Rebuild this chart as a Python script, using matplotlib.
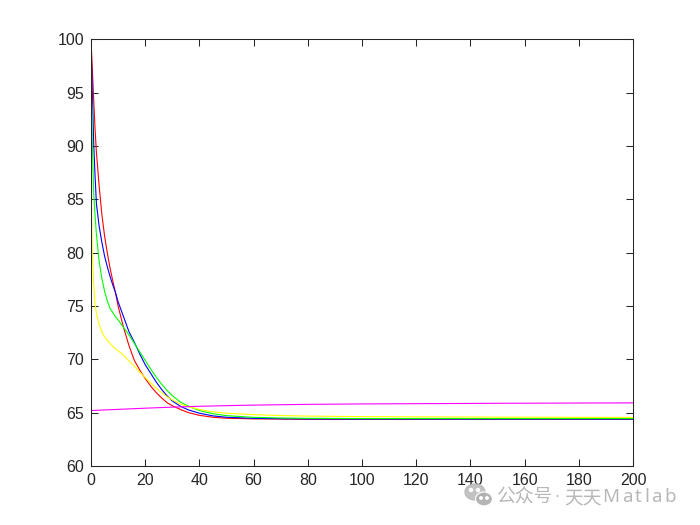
import matplotlib
matplotlib.use("Agg")
import matplotlib.pyplot as plt
from matplotlib.patches import Ellipse

# ---- data ----
red_x = [0, 0.5, 1, 1.5, 2, 3, 4, 5, 6, 7, 8, 9, 10, 12, 14, 16, 18, 20, 22, 24, 26, 28, 30, 33, 36, 40, 45, 50, 60, 70, 80, 100, 150, 200]
red_y = [100, 97.2, 94.3, 91.6, 89.4, 86.3, 83.6, 81.6, 80.0, 78.6, 77.4, 76.3, 75.0, 73.0, 71.3, 69.9, 69.0, 68.2, 67.5, 66.9, 66.4, 65.95, 65.65, 65.3, 65.0, 64.75, 64.57, 64.48, 64.42, 64.4, 64.38, 64.38, 64.38, 64.38]

blue_x = [0, 0.25, 0.5, 1, 1.5, 2, 3, 4, 5, 6, 7, 8, 9, 10, 12, 14, 16, 18, 20, 22, 24, 26, 28, 30, 33, 36, 40, 45, 50, 60, 70, 80, 100, 150, 200]
blue_y = [100, 97.3, 95, 90.3, 87.2, 84.6, 82.5, 81.0, 79.7, 78.7, 77.8, 77.0, 76.3, 75.4, 74.0, 72.6, 71.6, 70.5, 69.5, 68.7, 67.9, 67.2, 66.6, 66.1, 65.6, 65.25, 64.95, 64.7, 64.57, 64.47, 64.43, 64.41, 64.4, 64.4, 64.4]

green_x = [0, 0.25, 0.5, 1, 1.5, 2, 3, 4, 5, 6, 7, 8, 9, 10, 12, 14, 16, 18, 20, 22, 24, 26, 28, 30, 33, 36, 40, 45, 50, 60, 70, 80, 100, 150, 200]
green_y = [100, 94, 90, 85.6, 83.5, 81.7, 79.2, 77.6, 76.4, 75.5, 74.8, 74.4, 74.0, 73.7, 73.0, 72.3, 71.5, 70.7, 69.9, 69.1, 68.35, 67.7, 67.1, 66.6, 66.0, 65.6, 65.2, 64.9, 64.72, 64.56, 64.5, 64.47, 64.45, 64.45, 64.45]

yellow_x = [0, 0.1, 0.25, 0.5, 1, 1.5, 2, 3, 4, 5, 6, 7, 8, 9, 10, 12, 14, 16, 18, 20, 22, 24, 26, 28, 30, 33, 36, 40, 45, 50, 60, 70, 80, 100, 150, 200]
yellow_y = [100, 88, 83, 80, 77, 75.2, 74.3, 73.3, 72.6, 72.1, 71.8, 71.5, 71.25, 71.0, 70.8, 70.4, 69.85, 69.35, 68.8, 68.3, 67.8, 67.3, 66.9, 66.5, 66.2, 65.8, 65.55, 65.3, 65.08, 64.95, 64.82, 64.73, 64.68, 64.63, 64.58, 64.55]

magenta_x = [0, 10, 20, 30, 40, 50, 60, 80, 100, 150, 200]
magenta_y = [65.2, 65.31, 65.42, 65.52, 65.6, 65.66, 65.71, 65.78, 65.82, 65.88, 65.92]

x_ticks = [0, 20, 40, 60, 80, 100, 120, 140, 160, 180, 200]
y_ticks = [60, 65, 70, 75, 80, 85, 90, 95, 100]

watermark_parts = ["公众号", "·", "天天", "Matlab"]

# ---- figure ----
fig = plt.figure(figsize=(7, 5.25), dpi=100)
ax = fig.add_axes([0.13, 0.1124, 0.7743, 0.8124])

lw = 0.8
ax.plot(red_x, red_y, color=(1, 0, 0), lw=lw)
ax.plot(blue_x, blue_y, color=(0, 0, 1), lw=lw)
ax.plot(green_x, green_y, color=(0, 1, 0), lw=lw)
ax.plot(yellow_x, yellow_y, color=(1, 1, 0), lw=lw)
ax.plot(magenta_x, magenta_y, color=(1, 0, 1), lw=lw)

ax.set_xlim(0, 200)
ax.set_ylim(60, 100)
ax.set_xticks(x_ticks)
ax.set_yticks(y_ticks)

edge = (0.15, 0.15, 0.15)
for s in ax.spines.values():
    s.set_color(edge)
    s.set_linewidth(0.75)
ax.tick_params(direction="in", length=5, width=0.75, color=edge,
               top=True, right=True, labelsize=11.5, labelcolor=edge, pad=5)
for lab in ax.get_xticklabels() + ax.get_yticklabels():
    lab.set_fontfamily("Liberation Sans")

# ---- watermark ----
gray = (0.72, 0.72, 0.72)
H = 525.0
W = 700.0
def fx(px):
    return px / W
def fy(py):
    return 1 - py / H
e1 = Ellipse((fx(475), fy(492)), 20 / W, 16 / H, transform=fig.transFigure,
             color=gray, alpha=0.85, zorder=5)
e2 = Ellipse((fx(484), fy(499)), 17 / W, 14 / H, transform=fig.transFigure,
             color=(0.68, 0.68, 0.68), alpha=0.9, zorder=6, ec="white", lw=1)
fig.patches.extend([e1, e2])
for (cx, cy) in [(471, 490), (478, 490)]:
    fig.patches.append(Ellipse((fx(cx), fy(cy)), 3 / W, 3 / H, transform=fig.transFigure,
                               color="white", zorder=7))
for (cx, cy) in [(481, 498), (487, 498)]:
    fig.patches.append(Ellipse((fx(cx), fy(cy)), 2.5 / W, 2.5 / H, transform=fig.transFigure,
                               color="white", zorder=7))

wm_font = ["Noto Sans CJK SC", "DejaVu Sans"]
fig.text(fx(496), fy(497.5), watermark_parts[0], family=wm_font,
         fontsize=13.5, color=gray, va="center", ha="left", zorder=4)
fig.text(fx(557), fy(497.5), watermark_parts[1], family=["DejaVu Sans"],
         fontsize=11, color=gray, va="center", ha="center", zorder=4)
fig.text(fx(564), fy(497.5), watermark_parts[2], family=wm_font,
         fontsize=13.5, color=gray, va="center", ha="left", zorder=4)

# "Matlab" drawn with a little letter spacing, as in the reference
fig.canvas.draw()
renderer = fig.canvas.get_renderer()
xpos = 602.5
track = 2.4
for ch in watermark_parts[3]:
    t = fig.text(fx(xpos), fy(497.5), ch, family=["Noto Sans", "DejaVu Sans"],
                 fontsize=13.5, color=gray, va="center", ha="left", zorder=4)
    bb = t.get_window_extent(renderer=renderer)
    xpos += bb.width + track

fig.savefig("out.png", dpi=100, facecolor="white")
